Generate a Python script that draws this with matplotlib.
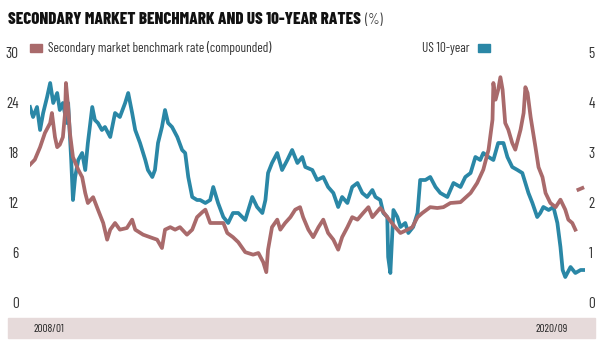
import numpy as np
import matplotlib
matplotlib.use("Agg")
import matplotlib.pyplot as plt
from matplotlib.patches import Rectangle

# secondary market benchmark rate (compounded), left axis, %
bench_t = [2008.00, 2008.11, 2008.23, 2008.34, 2008.46, 2008.50, 2008.57, 2008.62, 2008.68, 2008.75,
           2008.80, 2008.82, 2008.87, 2008.91, 2008.98, 2009.10, 2009.19, 2009.26, 2009.32, 2009.44,
           2009.55, 2009.67, 2009.76, 2009.83, 2009.94, 2010.05, 2010.21, 2010.33, 2010.40, 2010.58,
           2010.79, 2010.90, 2011.01, 2011.08, 2011.20, 2011.31, 2011.42, 2011.58, 2011.70, 2011.81,
           2011.93, 2012.00, 2012.11, 2012.27, 2012.41, 2012.50, 2012.63, 2012.75, 2012.91, 2013.09,
           2013.21, 2013.32, 2013.39, 2013.43, 2013.52, 2013.64, 2013.71, 2013.82, 2013.94, 2014.05,
           2014.16, 2014.23, 2014.35, 2014.46, 2014.58, 2014.69, 2014.80, 2014.92, 2015.03, 2015.12,
           2015.24, 2015.35, 2015.47, 2015.60, 2015.72, 2015.81, 2015.99, 2016.15, 2016.33, 2016.45,
           2016.61, 2016.72, 2016.84, 2016.95, 2017.13, 2017.29, 2017.43, 2017.59, 2017.82, 2018.05,
           2018.20, 2018.34, 2018.46, 2018.55, 2018.57, 2018.62, 2018.68, 2018.73, 2018.78, 2018.84,
           2018.91, 2019.00, 2019.07, 2019.19, 2019.26, 2019.30, 2019.35, 2019.42, 2019.53, 2019.60,
           2019.69, 2019.76, 2019.87, 2019.99, 2020.10, 2020.21, 2020.28, 2020.37, 2020.44, 2020.47,
           2020.51, 2020.60]
bench_v = [16.6, 17.2, 18.7, 20.4, 21.6, 22.8, 19.9, 18.7, 19.0, 19.9,
           22.8, 26.4, 23.5, 20.4, 17.5, 16.0, 15.1, 13.2, 12.0, 12.7,
           11.2, 9.6, 7.6, 8.8, 9.6, 8.8, 9.0, 10.0, 8.8, 8.2,
           7.8, 7.6, 6.6, 8.8, 9.1, 8.8, 9.1, 8.2, 8.8, 10.3,
           10.9, 11.2, 9.6, 9.6, 9.6, 8.4, 7.9, 7.3, 6.1, 5.8,
           6.0, 4.9, 3.7, 6.4, 9.1, 10.0, 8.8, 9.6, 10.3, 11.2,
           11.5, 10.3, 8.8, 7.9, 9.1, 10.0, 8.4, 7.6, 6.4, 7.9,
           9.1, 10.3, 10.0, 10.8, 11.5, 10.3, 11.4, 10.3, 9.1, 8.4,
           8.8, 9.1, 10.3, 10.8, 11.5, 11.4, 11.5, 12.0, 12.1, 13.2,
           14.4, 16.0, 18.4, 22.0, 26.4, 24.4, 25.6, 27.1, 25.6, 21.6,
           20.8, 19.2, 18.4, 20.8, 22.8, 25.9, 25.2, 22.3, 18.7, 16.3,
           15.1, 13.2, 12.0, 11.5, 12.4, 11.2, 10.0, 9.6, 8.8, np.nan,
           13.6, 13.8]

# US 10-year treasury yield, right axis, %
us10_t = [2008.00, 2008.07, 2008.16, 2008.23, 2008.30, 2008.39, 2008.46, 2008.53, 2008.62, 2008.68,
          2008.75, 2008.84, 2008.87, 2008.94, 2008.98, 2009.03, 2009.10, 2009.19, 2009.26, 2009.32,
          2009.42, 2009.48, 2009.55, 2009.64, 2009.71, 2009.83, 2009.94, 2010.05, 2010.17, 2010.24,
          2010.33, 2010.40, 2010.51, 2010.63, 2010.69, 2010.79, 2010.85, 2010.92, 2011.01, 2011.08,
          2011.15, 2011.24, 2011.36, 2011.47, 2011.54, 2011.61, 2011.70, 2011.81, 2011.88, 2012.00,
          2012.11, 2012.18, 2012.29, 2012.41, 2012.52, 2012.63, 2012.75, 2012.91, 2013.07, 2013.18,
          2013.30, 2013.37, 2013.43, 2013.52, 2013.64, 2013.75, 2013.87, 2013.98, 2014.10, 2014.21,
          2014.28, 2014.44, 2014.55, 2014.69, 2014.80, 2014.92, 2015.03, 2015.12, 2015.24, 2015.35,
          2015.47, 2015.58, 2015.69, 2015.81, 2015.88, 2015.99, 2016.06, 2016.15, 2016.17, 2016.22,
          2016.29, 2016.38, 2016.45, 2016.56, 2016.63, 2016.74, 2016.84, 2016.90, 2017.02, 2017.13,
          2017.25, 2017.36, 2017.52, 2017.66, 2017.82, 2017.93, 2018.05, 2018.16, 2018.27, 2018.34,
          2018.46, 2018.57, 2018.68, 2018.80, 2018.89, 2019.00, 2019.12, 2019.23, 2019.30, 2019.37,
          2019.46, 2019.57, 2019.64, 2019.71, 2019.83, 2019.94, 2020.03, 2020.10, 2020.15, 2020.21,
          2020.33, 2020.44, 2020.56, 2020.62]
us10_v = [3.92, 3.72, 3.92, 3.46, 3.80, 4.12, 4.40, 4.00, 4.20, 3.86,
          4.00, 3.60, 4.00, 2.86, 2.06, 2.52, 2.86, 3.00, 2.66, 3.20,
          3.92, 3.66, 3.60, 3.46, 3.52, 3.32, 3.80, 3.72, 4.00, 4.20,
          3.80, 3.46, 3.20, 2.86, 2.66, 2.52, 2.66, 3.20, 3.52, 3.86,
          3.60, 3.52, 3.32, 3.06, 3.00, 2.52, 2.12, 2.06, 2.06, 2.00,
          2.06, 2.32, 2.00, 1.72, 1.60, 1.80, 1.80, 1.66, 2.12, 1.92,
          1.80, 2.06, 2.60, 2.80, 3.00, 2.66, 2.86, 3.06, 2.80, 2.92,
          2.72, 2.66, 2.46, 2.52, 2.32, 2.20, 1.92, 2.12, 2.00, 2.32,
          2.40, 2.20, 2.12, 2.26, 2.12, 2.06, 1.80, 1.72, 0.92, 0.60,
          1.86, 1.72, 1.52, 1.60, 1.40, 1.52, 1.80, 2.46, 2.46, 2.52,
          2.32, 2.20, 2.12, 2.40, 2.32, 2.52, 2.60, 2.92, 2.86, 3.00,
          2.92, 2.86, 3.20, 3.20, 2.92, 2.72, 2.66, 2.60, 2.40, 2.20,
          2.00, 1.72, 1.80, 1.92, 1.86, 1.92, 1.60, 1.12, 0.66, 0.52,
          0.72, 0.60, 0.66, 0.66]

left_ticks = [0, 6, 12, 18, 24, 30]
right_ticks = [0, 1, 2, 3, 4, 5]
start_label, end_label = "2008/01", "2020/09"

red = "#a96a6b"
teal = "#2a87a6"
band = "#e6dada"

plt.rcParams["font.family"] = ["Barlow Condensed", "Archivo Narrow", "DejaVu Sans"]

fig = plt.figure(figsize=(6.07, 3.49), dpi=100)
ax = fig.add_axes([30 / 607, 46 / 349, 555 / 607, 250 / 349])
ax2 = ax.twinx()

ax.plot(bench_t, bench_v, color=red, lw=2.7, zorder=2)
ax2.plot(us10_t, us10_v, color=teal, lw=2.7, zorder=3)

ax.set_xlim(2008.0, 2020.66)
ax.set_ylim(0, 30)
ax2.set_ylim(0, 5)
ax.set_yticks(left_ticks)
ax2.set_yticks(right_ticks)
ax.set_xticks([])
for a in (ax, ax2):
    for s in a.spines.values():
        s.set_visible(False)
    a.tick_params(length=0, labelsize=11, labelcolor="#333333")
ax.tick_params(axis="y", pad=8)
ax2.tick_params(axis="y", pad=2.5)
ax.set_zorder(ax2.get_zorder() + 1)
ax.patch.set_visible(False)

# title, with the unit placed right after it
title = fig.text(8 / 607, 1 - 24 / 349, "SECONDARY MARKET BENCHMARK AND US 10-YEAR RATES",
                 fontsize=12.2, fontweight="heavy", color="#111111", va="baseline")
fig.canvas.draw()
tx1 = title.get_window_extent().x1
fig.text((tx1 + 4) / 607, 1 - 24 / 349, "(%)", fontsize=10.5, color="#444444", va="baseline")

# legend
fig.patches.append(Rectangle((30 / 607, 1 - 52 / 349), 12 / 607, 8 / 349,
                             transform=fig.transFigure, color=red))
fig.text(48 / 607, 1 - 52 / 349, "Secondary market benchmark rate (compounded)",
         fontsize=9.6, color="#333333", va="baseline")
fig.patches.append(Rectangle((478 / 607, 1 - 52 / 349), 12 / 607, 8 / 349,
                             transform=fig.transFigure, color=teal))
fig.text(470 / 607, 1 - 52 / 349, "US 10-year", fontsize=9.6, color="#333333",
         va="baseline", ha="right")

# date band
fig.patches.append(Rectangle((8 / 607, 1 - 338 / 349), 587 / 607, 20 / 349,
                             transform=fig.transFigure, color=band, zorder=0))
fig.text(33 / 607, 1 - 332 / 349, start_label, fontsize=8, color="#222222", va="baseline")
fig.text(568 / 607, 1 - 332 / 349, end_label, fontsize=8, color="#222222",
         va="baseline", ha="right")

fig.savefig("out.png", dpi=100)
